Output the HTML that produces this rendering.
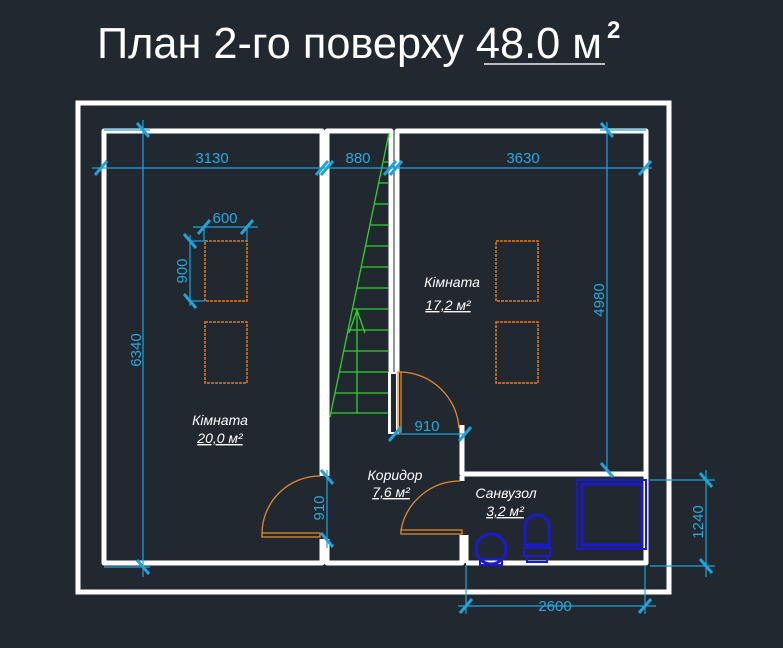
<!DOCTYPE html>
<html><head><meta charset="utf-8"><style>
html,body{margin:0;padding:0;background:#222830;}
svg{display:block}
</style></head><body>
<svg width="783" height="648" viewBox="0 0 783 648" xmlns="http://www.w3.org/2000/svg">
<rect width="783" height="648" fill="#222830"/>
<!-- title -->
<text x="97" y="58" font-family="Liberation Sans, sans-serif" font-size="44" fill="#fff" textLength="505" lengthAdjust="spacingAndGlyphs">План 2-го поверху 48.0 м</text>
<text x="607" y="38" font-family="Liberation Sans, sans-serif" font-size="24" fill="#fff" font-weight="bold">2</text>
<line x1="484" y1="64" x2="605" y2="64" stroke="#b8bcc4" stroke-width="2"/>
<!-- outer -->
<rect x="78" y="103" width="591" height="489" fill="none" stroke="#fff" stroke-width="5"/>
<g fill="none" stroke="#fff" stroke-width="5" stroke-linejoin="round">
<polyline points="322,476 322,131 104,131 104,563 322,563 322,539"/>
<polyline points="327,476 327,131 391,131 391,432"/>
<polyline points="327,539 327,563 462,563 462,535"/>
<polyline points="397,372 397,131 646,131 646,563 466,563"/>
<polyline points="462,425 462,474 646,474"/>
<line x1="466" y1="535" x2="466" y2="563"/>
<line x1="462" y1="476" x2="462" y2="481"/>
</g>
<rect x="388" y="372" width="11" height="62" fill="#fff"/>
<rect x="391" y="374" width="5" height="58" fill="#222830"/>
<!-- stairs -->
<g stroke="#2fd12f" stroke-width="1.3" fill="none">
<line x1="389" y1="133" x2="330" y2="417"/>
<line x1="330" y1="413" x2="388" y2="413"/>
<line x1="357" y1="310" x2="357" y2="413"/>
<polyline points="349,333 357,310 365,333"/>
<line x1="384" y1="162" x2="388" y2="162"/>
<line x1="378" y1="183" x2="388" y2="183"/>
<line x1="374" y1="204" x2="388" y2="204"/>
<line x1="370" y1="225" x2="388" y2="225"/>
<line x1="366" y1="246" x2="388" y2="246"/>
<line x1="361" y1="267" x2="388" y2="267"/>
<line x1="357" y1="288" x2="388" y2="288"/>
<line x1="353" y1="309" x2="388" y2="309"/>
<line x1="348" y1="330" x2="388" y2="330"/>
<line x1="344" y1="351" x2="388" y2="351"/>
<line x1="340" y1="372" x2="388" y2="372"/>
<line x1="335" y1="393" x2="388" y2="393"/>
</g>
<!-- tables -->
<g fill="none" stroke="#e07b1e" stroke-width="1.5" stroke-dasharray="3,1">
<rect x="205" y="241" width="42" height="60"/>
<rect x="205" y="322" width="42" height="61"/>
<rect x="496" y="241" width="42" height="60"/>
<rect x="496" y="322" width="42" height="61"/>
</g>
<!-- doors -->
<g fill="none" stroke="#e08a2a" stroke-width="1.3">
<rect x="398" y="372" width="3" height="60"/>
<path d="M401,372 A60,60 0 0 1 459,428"/>
<rect x="262" y="533" width="58" height="4"/>
<path d="M262,533 A58,58 0 0 1 320,476"/>
<rect x="401" y="530" width="61" height="4"/>
<path d="M401,530 A60,60 0 0 1 460,481"/>
</g>
<!-- bathroom fixtures -->
<g fill="none" stroke="#1a1ad0" stroke-width="2">
<rect x="577" y="480" width="69" height="69"/>
<rect x="582" y="484" width="60" height="61" stroke-width="3"/>
<circle cx="491" cy="549" r="15" stroke-width="3"/>
<rect x="480" y="559" width="22" height="6"/>
<path d="M525,545 L525,527 A12,12 0 0 1 549,527 L549,545 Z" stroke-width="3"/>
<rect x="524" y="548" width="26" height="8"/>
<rect x="527" y="556" width="20" height="6"/>
</g>
<!-- dimensions -->
<g stroke="#1ea3dc" stroke-width="1.2" fill="none">
<line x1="92" y1="168" x2="652" y2="168"/>
<line x1="143" y1="120" x2="143" y2="577"/>
<line x1="104" y1="130" x2="150" y2="130"/>
<line x1="104" y1="567" x2="150" y2="567"/>
<line x1="607" y1="122" x2="607" y2="472"/>
<line x1="600" y1="130" x2="646" y2="130"/>
<line x1="193" y1="227" x2="258" y2="227"/>
<line x1="204" y1="227" x2="204" y2="241"/>
<line x1="247" y1="227" x2="247" y2="241"/>
<line x1="190" y1="235" x2="190" y2="306"/>
<line x1="190" y1="241" x2="205" y2="241"/>
<line x1="190" y1="301" x2="205" y2="301"/>
<line x1="327" y1="470" x2="327" y2="548"/>
<line x1="395" y1="434" x2="466" y2="434"/>
<line x1="706" y1="470" x2="706" y2="577"/>
<line x1="650" y1="480" x2="715" y2="480"/>
<line x1="650" y1="566" x2="715" y2="566"/>
<line x1="458" y1="606" x2="656" y2="606"/>
<line x1="466" y1="566" x2="466" y2="614"/>
<line x1="645" y1="566" x2="645" y2="614"/>
</g>
<g stroke="#1ea3dc" stroke-width="3">
<line x1="95" y1="175" x2="107" y2="161"/>
<line x1="316" y1="175" x2="328" y2="161"/><line x1="321" y1="175" x2="333" y2="161"/>
<line x1="384" y1="175" x2="396" y2="161"/><line x1="390" y1="175" x2="402" y2="161"/>
<line x1="639" y1="175" x2="651" y2="161"/>
<line x1="137" y1="123" x2="149" y2="137"/>
<line x1="137" y1="560" x2="149" y2="574"/>
<line x1="601" y1="123" x2="613" y2="137"/>
<line x1="601" y1="463" x2="613" y2="477"/>
<line x1="198" y1="234" x2="210" y2="220"/>
<line x1="241" y1="234" x2="253" y2="220"/>
<line x1="184" y1="234" x2="196" y2="248"/>
<line x1="184" y1="294" x2="196" y2="308"/>
<line x1="321" y1="470" x2="333" y2="484"/>
<line x1="321" y1="533" x2="333" y2="547"/>
<line x1="389" y1="441" x2="401" y2="427"/>
<line x1="459" y1="441" x2="471" y2="427"/>
<line x1="700" y1="473" x2="712" y2="487"/>
<line x1="700" y1="559" x2="712" y2="573"/>
<line x1="460" y1="613" x2="472" y2="599"/>
<line x1="639" y1="613" x2="651" y2="599"/>
</g>
<g font-family="Liberation Sans, sans-serif" font-size="15" fill="#28a8e0" text-anchor="middle">
<text x="212" y="163">3130</text>
<text x="358" y="163">880</text>
<text x="523" y="163">3630</text>
<text x="225" y="223">600</text>
<text x="427" y="431">910</text>
<text x="555" y="611">2600</text>
<text transform="translate(141,350) rotate(-90)">6340</text>
<text transform="translate(604,300) rotate(-90)">4980</text>
<text transform="translate(187,271) rotate(-90)">900</text>
<text transform="translate(324,508) rotate(-90)">910</text>
<text transform="translate(703,522) rotate(-90)">1240</text>
</g>
<g font-family="Liberation Sans, sans-serif" font-size="14" font-style="italic" fill="#fff" text-anchor="middle">
<text x="452" y="287">Кімната</text>
<text x="448" y="310" text-decoration="underline">17,2 м²</text>
<text x="220" y="425">Кімната</text>
<text x="220" y="443" text-decoration="underline">20,0 м²</text>
<text x="395" y="480">Коридор</text>
<text x="391" y="497" text-decoration="underline">7,6 м²</text>
<text x="506" y="498">Санвузол</text>
<text x="505" y="516" text-decoration="underline">3,2 м²</text>
</g>
</svg>
</body></html>
